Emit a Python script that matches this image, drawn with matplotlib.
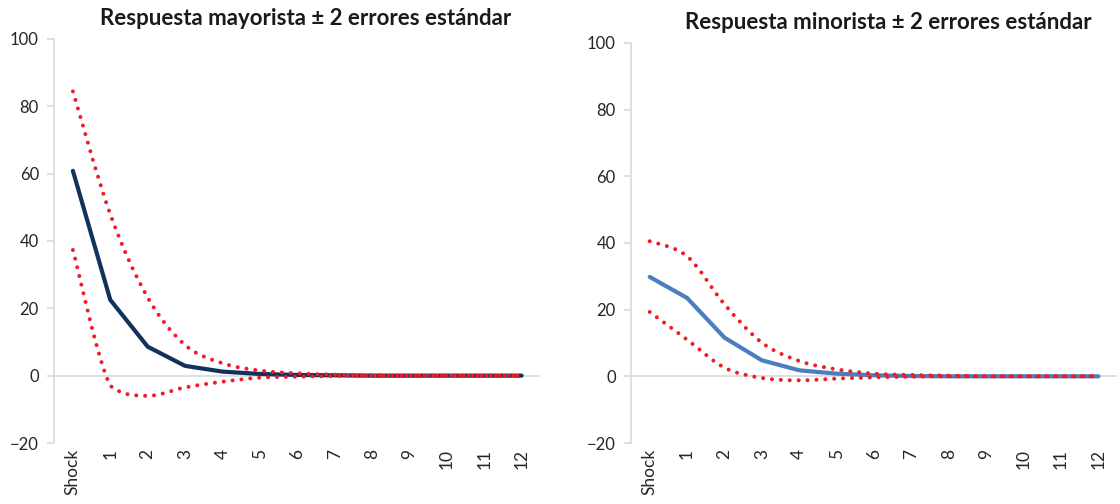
import numpy as np
import matplotlib
matplotlib.use('Agg')
import matplotlib.pyplot as plt
from matplotlib.path import Path
from matplotlib.patches import PathPatch

plt.rcParams['font.family'] = ['Lato', 'DejaVu Sans']

periods = ['Shock', '1', '2', '3', '4', '5', '6', '7', '8', '9', '10', '11', '12']

# mayorista: impulse response and +/- 2 s.e. bands
may_resp = [60.8, 22.5, 8.6, 2.9, 1.2, 0.5, 0.2, 0.1, 0, 0, 0, 0, 0]
may_upper = [84.4, 47.9, 23.2, 9.1, 3.7, 1.5, 0.7, 0.3, 0.1, 0, 0, 0, 0]
may_lower = [37.3, -3.0, -6.0, -3.5, -1.8, -0.6, -0.3, -0.1, 0, 0, 0, 0, 0]

# minorista
min_resp = [29.8, 23.5, 11.6, 4.8, 1.8, 0.8, 0.3, 0.1, 0, 0, 0, 0, 0]
min_upper = [40.5, 36.0, 21.6, 10.1, 4.6, 2.1, 0.8, 0.4, 0.2, 0, 0, 0, 0]
min_lower = [19.3, 11.0, 2.6, -0.5, -1.2, -0.7, -0.3, -0.1, 0, 0, 0, 0, 0]

RED = '#EE1C25'
GRID = '#D9D9D9'


def smooth_path(x, y):
    # Catmull-Rom style curve through every point, control points kept
    # inside each segment's y range so the curve does not overshoot
    pts = np.column_stack([x, y]).astype(float)
    n = len(pts)
    verts = [pts[0]]
    codes = [Path.MOVETO]
    for i in range(n - 1):
        p0 = pts[i - 1] if i > 0 else pts[i]
        p1 = pts[i]
        p2 = pts[i + 1]
        p3 = pts[i + 2] if i + 2 < n else pts[i + 1]
        c1 = p1 + (p2 - p0) / 6.0
        c2 = p2 - (p3 - p1) / 6.0
        lo, hi = min(p1[1], p2[1]), max(p1[1], p2[1])
        c1[1] = np.clip(c1[1], lo, hi)
        c2[1] = np.clip(c2[1], lo, hi)
        verts += [c1, c2, p2]
        codes += [Path.CURVE4] * 3
    return Path(verts, codes)


def panel(ax, title, resp, upper, lower, color, title_x):
    x = np.arange(len(periods))
    ax.axhline(0, color=GRID, lw=1.2, zorder=1)
    for band in (upper, lower):
        ax.add_patch(PathPatch(smooth_path(x, band), fill=False, edgecolor=RED,
                               lw=2.9, linestyle=(0, (0.01, 2.2)),
                               capstyle='round', zorder=3))
    ax.plot(x, resp, color=color, lw=3.0, solid_capstyle='round', zorder=2)

    ax.set_xlim(-0.5, 12.5)
    ax.set_ylim(-20, 100)
    ax.set_yticks(range(-20, 101, 20))
    ax.set_xticks(x)
    ax.set_xticklabels(periods, rotation=90, fontsize=12.5, color='#262626')
    ax.tick_params(axis='x', length=0, pad=4)
    ax.tick_params(axis='y', length=5, width=1.2, color=GRID, labelsize=12,
                   labelcolor='#262626', pad=6)
    for s in ('top', 'right', 'bottom'):
        ax.spines[s].set_visible(False)
    ax.spines['left'].set_color(GRID)
    ax.spines['left'].set_linewidth(1.2)
    t = ax.set_title(title, fontsize=16, fontweight='bold', color='#1a1a1a',
                     pad=10)
    t.set_x(title_x)


fig = plt.figure(figsize=(11.2, 5.04), dpi=100)
ax1 = fig.add_axes([0.0484, 0.121, 0.434, 0.802])
ax2 = fig.add_axes([0.5634, 0.121, 0.434, 0.794])

panel(ax1, 'Respuesta mayorista ± 2 errores estándar',
      may_resp, may_upper, may_lower, '#11325A', 0.518)
panel(ax2, 'Respuesta minorista ± 2 errores estándar',
      min_resp, min_upper, min_lower, '#4A7EBF', 0.529)

fig.savefig('out.png', dpi=100)
